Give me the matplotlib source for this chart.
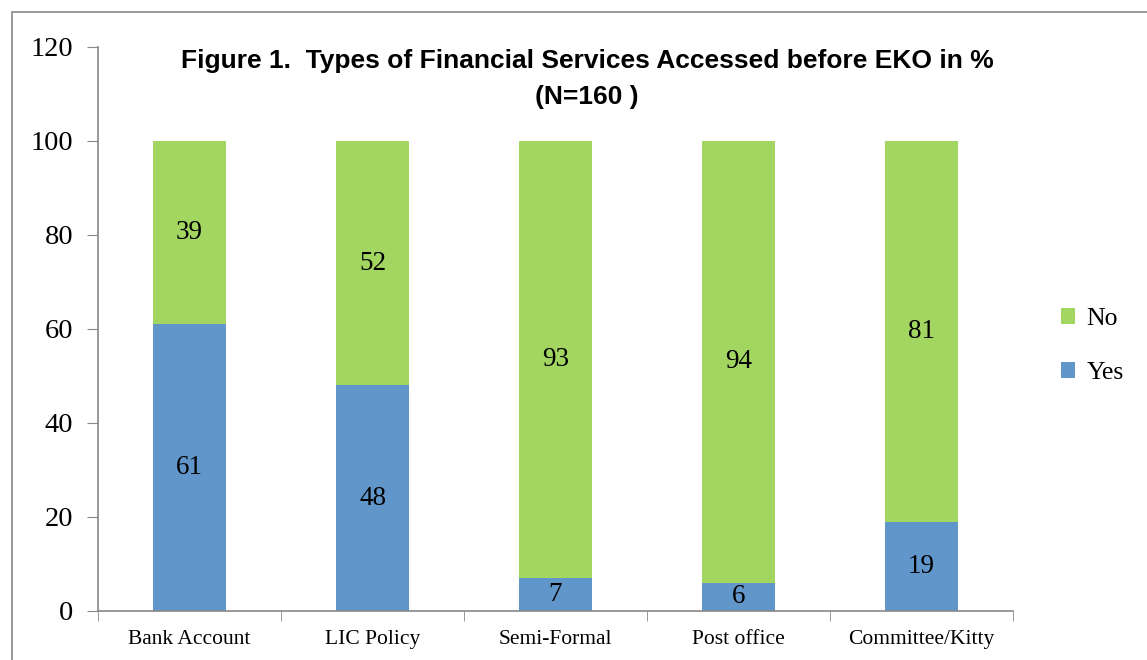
import matplotlib
matplotlib.use("Agg")
import matplotlib.pyplot as plt
import numpy as np
from matplotlib.patches import Rectangle

# data
categories = ["Bank Account", "LIC Policy", "Semi-Formal", "Post office", "Committee/Kitty"]
yes_vals = [61, 48, 7, 6, 19]
no_vals = [39, 52, 93, 94, 81]

green = "#A2D661"
blue = "#6196CB"
serif = ["Liberation Serif", "DejaVu Serif"]
sans = ["Liberation Sans", "DejaVu Sans"]

fig = plt.figure(figsize=(11.47, 6.6), dpi=100)
ax = fig.add_axes([98 / 1147, 1 - 611 / 660, (1013 - 98) / 1147, (611 - 47) / 660])

x = np.arange(len(categories))
b1 = ax.bar(x, yes_vals, width=0.4, color=blue, label="Yes")
b2 = ax.bar(x, no_vals, width=0.4, bottom=yes_vals, color=green, label="No")

# value labels in the middle of each segment
for i in range(len(categories)):
    ax.text(x[i], yes_vals[i] / 2, str(yes_vals[i]), ha="center", va="center",
            fontsize=19.5, family=serif)
    ax.text(x[i], yes_vals[i] + no_vals[i] / 2, str(no_vals[i]), ha="center",
            va="center", fontsize=19.5, family=serif)

ax.set_xlim(-0.5, len(categories) - 0.5)
ax.set_ylim(0, 120)
ax.set_yticks(range(0, 121, 20))
ax.set_yticklabels([str(v) for v in range(0, 121, 20)], family=serif, fontsize=20.5)
ax.set_xticks(x)
ax.set_xticklabels(categories, family=serif, fontsize=15.5)
ax.tick_params(axis="x", length=0, pad=14)
ax.tick_params(axis="y", length=8, color="#888888", pad=10)
# category boundary ticks
ax.set_xticks(np.arange(-0.5, len(categories), 1), minor=True)
ax.tick_params(axis="x", which="minor", length=7, color="#888888")

for s in ["top", "right"]:
    ax.spines[s].set_visible(False)
for s in ["left", "bottom"]:
    ax.spines[s].set_color("#888888")
    ax.spines[s].set_linewidth(1.2)

handles = [b2, b1]
ax.legend(handles, ["No", "Yes"], loc="center left", bbox_to_anchor=(1.027, 0.47),
          frameon=False, prop={"family": serif, "size": 18.5}, handlelength=0.55,
          handleheight=0.55, labelspacing=1.25, handletextpad=0.45)

fig.text(587 / 1147, 1 - 61 / 660, "Figure 1.  Types of Financial Services Accessed before EKO in %",
         ha="center", va="center", fontsize=19, fontweight="bold", family=sans)
fig.text(587 / 1147, 1 - 97 / 660, "(N=160 )", ha="center", va="center",
         fontsize=19, fontweight="bold", family=sans)

# outer chart border
fig.patches.append(Rectangle((12 / 1147, -0.1), 1.2, 1 - 12 / 660 + 0.1,
                             transform=fig.transFigure, fill=False,
                             edgecolor="#888888", linewidth=1.2))

fig.savefig("out.png", dpi=100)
